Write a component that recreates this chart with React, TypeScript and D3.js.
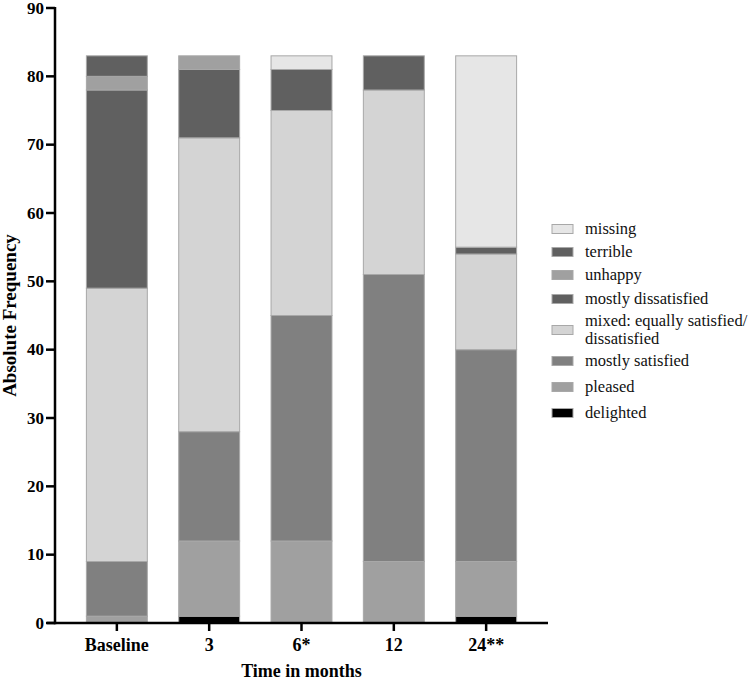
import React from "react";
import * as d3 from "d3";

const categories = ["Baseline", "3", "6*", "12", "24**"];
const seriesNames = [
  "delighted",
  "pleased",
  "mostly satisfied",
  "mixed: equally satisfied/ dissatisfied",
  "mostly dissatisfied",
  "unhappy",
  "terrible",
  "missing",
];
const delighted = [0, 1, 0, 0, 1];
const pleased = [1, 11, 12, 9, 8];
const mostlySatisfied = [8, 16, 33, 42, 31];
const mixed = [40, 43, 30, 27, 14];
const mostlyDissatisfied = [29, 10, 6, 5, 1];
const unhappy = [2, 2, 0, 0, 0];
const terrible = [3, 0, 0, 0, 0];
const missing = [0, 0, 2, 0, 28];
const yTicks = [0, 10, 20, 30, 40, 50, 60, 70, 80, 90];

const seriesValues = [delighted, pleased, mostlySatisfied, mixed, mostlyDissatisfied, unhappy, terrible, missing];
const colors = ["#000000", "#a0a0a0", "#808080", "#d4d4d4", "#606060", "#a0a0a0", "#606060", "#e6e6e6"];
const legendLines: string[][] = [
  ["missing"],
  ["terrible"],
  ["unhappy"],
  ["mostly dissatisfied"],
  ["mixed: equally satisfied/", "dissatisfied"],
  ["mostly satisfied"],
  ["pleased"],
  ["delighted"],
];
const legendColorIdx = [7, 6, 5, 4, 3, 2, 1, 0];
const legendCenters = [229, 252, 275, 299, 330, 361, 387, 413];

const FONT = "Liberation Serif, Times New Roman, DejaVu Serif, serif";
const fs = (size: number, bold = false): React.CSSProperties => ({
  fontFamily: FONT,
  fontSize: size,
  fontWeight: bold ? 700 : 400,
});

export default function App() {
  const W = 749, H = 680;
  const x0 = 55, x1 = 548, yTop = 8, yBot = 623;
  const x = d3.scaleBand<string>().domain(categories).range([x0, x1]).paddingInner(0.34).paddingOuter(0.34);
  const y = d3.scaleLinear().domain([0, 90]).range([yBot, yTop]);

  const rows = categories.map((c, i) => {
    const r: any = { cat: c };
    seriesNames.forEach((s, j) => (r[s] = seriesValues[j][i]));
    return r;
  });
  const stacked = d3.stack<any>().keys(seriesNames)(rows);

  return (
    <svg width={W} height={H} style={{ position: "absolute", left: 0, top: 0, background: "#fff" }}>
      {stacked.map((layer, j) => (
        <g key={j} fill={colors[j]}>
          {layer.map((d, i) =>
            d[1] - d[0] > 0 ? (
              <rect
                key={i}
                x={x(categories[i])}
                width={x.bandwidth()}
                y={y(d[1])}
                height={y(d[0]) - y(d[1])}
                stroke="#a8a8a8"
                strokeWidth={1}
              />
            ) : null
          )}
        </g>
      ))}
      {/* Y axis */}
      <line x1={x0} x2={x0} y1={yTop - 1} y2={yBot + 1.25} stroke="#000" strokeWidth={2.5} />
      {yTicks.map((t) => (
        <g key={t}>
          <line x1={x0 - 9} x2={x0} y1={y(t)} y2={y(t)} stroke="#000" strokeWidth={2.5} />
          <text x={x0 - 11} y={y(t)} dy="0.34em" textAnchor="end" style={fs(17, true)}>
            {t}
          </text>
        </g>
      ))}
      {/* X axis */}
      <line x1={x0 - 8} x2={x1} y1={yBot} y2={yBot} stroke="#000" strokeWidth={2.5} />
      {categories.map((c) => {
        const cx = (x(c) as number) + x.bandwidth() / 2;
        return (
          <g key={c}>
            <line x1={cx} x2={cx} y1={yBot} y2={yBot + 8} stroke="#000" strokeWidth={2.5} />
            <text x={cx} y={651} textAnchor="middle" style={fs(18, true)}>
              {c}
            </text>
          </g>
        );
      })}
      <text x={(x0 + x1) / 2} y={677} textAnchor="middle" style={fs(18, true)}>
        Time in months
      </text>
      <text transform={`translate(16,${(yTop + yBot) / 2}) rotate(-90)`} textAnchor="middle" style={fs(19, true)}>
        Absolute Frequency
      </text>
      {/* Legend */}
      {legendLines.map((lines, k) => {
        const cy = legendCenters[k];
        const n = lines.length;
        return (
          <g key={k}>
            <rect x={552} y={cy - 4.5} width={21} height={9} fill={colors[legendColorIdx[k]]} stroke="#a8a8a8" strokeWidth={1} />
            {lines.map((ln, li) => (
              <text key={li} x={585} y={cy + 5 + (li - (n - 1) / 2) * 18} style={fs(16.5)} fill="#111">
                {ln}
              </text>
            ))}
          </g>
        );
      })}
    </svg>
  );
}
